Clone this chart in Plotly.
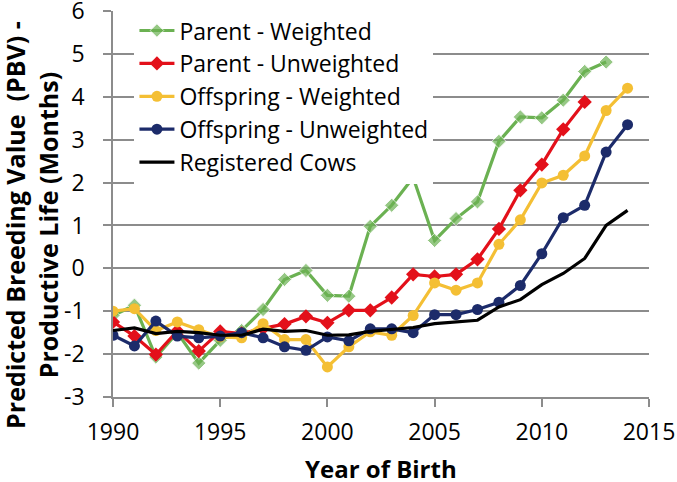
import plotly.graph_objects as go

years = list(range(1990, 2015))

parent_weighted = [-1.10, -0.86, -2.07, -1.50, -2.21, -1.68, -1.45, -0.96, -0.26, -0.05,
                   -0.63, -0.65, 0.98, 1.47, 2.12, 0.65, 1.16, 1.55, 2.96, 3.53,
                   3.51, 3.92, 4.59, 4.81]
parent_unweighted = [-1.25, -1.58, -2.01, -1.46, -1.93, -1.47, -1.52, -1.40, -1.30, -1.12,
                     -1.27, -0.98, -0.98, -0.68, -0.14, -0.19, -0.14, 0.21, 0.92, 1.82,
                     2.42, 3.24, 3.88]
offspring_weighted = [-1.00, -0.94, -1.45, -1.25, -1.43, -1.60, -1.62, -1.29, -1.66, -1.66,
                      -2.30, -1.83, -1.48, -1.56, -1.10, -0.34, -0.51, -0.34, 0.56, 1.13,
                      1.99, 2.17, 2.62, 3.68, 4.20]
offspring_unweighted = [-1.56, -1.81, -1.23, -1.58, -1.62, -1.58, -1.50, -1.62, -1.83, -1.91,
                        -1.60, -1.69, -1.41, -1.41, -1.50, -1.08, -1.08, -0.96, -0.79, -0.40,
                        0.34, 1.18, 1.47, 2.71, 3.35]
registered_cows = [-1.45, -1.39, -1.52, -1.47, -1.50, -1.56, -1.56, -1.42, -1.47, -1.45,
                   -1.56, -1.55, -1.47, -1.43, -1.38, -1.29, -1.25, -1.21, -0.90, -0.73,
                   -0.38, -0.12, 0.23, 1.00, 1.35]

x_ticks = [1990, 1995, 2000, 2005, 2010, 2015]
y_ticks = [-3, -2, -1, 0, 1, 2, 3, 4, 5, 6]
y_tick_labels = ["-3", "-2", "-1", "0", "1", "2", "3", "4", "5", "6"]

FONT = "Open Sans"
AXIS_GREY = "#8C8C8C"

fig = go.Figure()

# the 2004 point of the green series is drawn without a marker in the original
green_sizes = [0 if y == 2004 else 11 for y in years[:len(parent_weighted)]]

series = [
    ("Parent - Weighted", parent_weighted, "#6BB152", "diamond", green_sizes),
    ("Parent - Unweighted", parent_unweighted, "#E3101A", "diamond", 11),
    ("Offspring - Weighted", offspring_weighted, "#F4BF34", "circle", 11),
    ("Offspring - Unweighted", offspring_unweighted, "#1C2B6A", "circle", 11),
]
for name, vals, col, sym, sz in series:
    fig.add_trace(go.Scatter(
        x=years[:len(vals)], y=vals, name=name, mode="lines+markers",
        line=dict(color=col, width=3.2),
        marker=dict(color=col, symbol=sym, size=sz),
    ))

fig.add_trace(go.Scatter(
    x=years, y=registered_cows, name="Registered Cows", mode="lines",
    line=dict(color="black", width=3.2),
))

fig.update_layout(
    width=677, height=482,
    paper_bgcolor="white", plot_bgcolor="white",
    margin=dict(l=113, r=28, t=11, b=85, autoexpand=False),
    font=dict(family=FONT, color="black", size=23),
    legend=dict(
        x=0.04, y=1.005, xanchor="left", yanchor="top",
        bgcolor="white", font=dict(size=23), tracegroupgap=0,
        itemwidth=35,
    ),
    showlegend=True,
)

fig.update_xaxes(
    range=[1990, 2015], tickvals=x_ticks,
    showgrid=False, zeroline=False,
    showline=True, linecolor=AXIS_GREY, linewidth=1.5,
    ticks="outside", ticklen=8, tickcolor=AXIS_GREY, tickwidth=1.5,
    tickfont=dict(size=23), ticklabelstandoff=6, automargin=False,
)
fig.update_yaxes(
    range=[-3, 6], tickvals=y_ticks, ticktext=y_tick_labels,
    showgrid=True, gridcolor=AXIS_GREY, gridwidth=1.5, zeroline=False,
    showline=True, linecolor=AXIS_GREY, linewidth=1.5,
    ticks="outside", ticklen=8, tickcolor=AXIS_GREY, tickwidth=1.5,
    tickfont=dict(size=23), ticklabelstandoff=14, automargin=False,
    ticklabeloverflow="allow",
)

fig.add_annotation(
    text="<b>Predicted Breeding Value \u00a0(PBV) -<br>Productive Life (Months)</b>",
    xref="paper", yref="paper", x=-0.151, y=0.446,
    xanchor="center", yanchor="middle", textangle=-90,
    showarrow=False, font=dict(size=25),
)
fig.add_annotation(
    text="<b>Year of Birth</b>",
    xref="paper", yref="paper", x=0.5, y=-0.184,
    xanchor="center", yanchor="middle",
    showarrow=False, font=dict(size=24),
)

# drop the default page margin so the figure sits at the window's corner
fig.write_html("out.html", config={"displayModeBar": False},
               post_script="document.body.style.margin='0';")
